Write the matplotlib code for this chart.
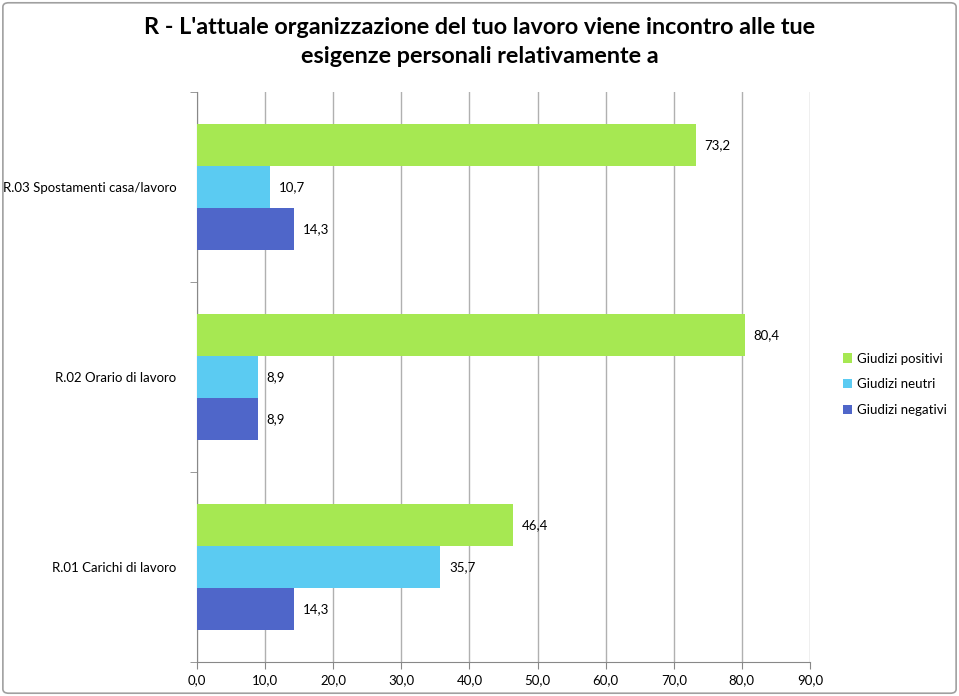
import matplotlib.pyplot as plt
import numpy as np
from matplotlib.patches import FancyBboxPatch

plt.rcParams['font.family'] = ['Lato', 'DejaVu Sans']

categories = ['R.01 Carichi di lavoro', 'R.02 Orario di lavoro', 'R.03 Spostamenti casa/lavoro']
positivi = [46.4, 80.4, 73.2]
neutri = [35.7, 8.9, 10.7]
negativi = [14.3, 8.9, 14.3]
series = ['Giudizi positivi', 'Giudizi neutri', 'Giudizi negativi']
colors = ['#a6e852', '#5bcbf2', '#4f66c9']
title = "R - L'attuale organizzazione del tuo lavoro viene incontro alle tue\nesigenze personali relativamente a"

fig = plt.figure(figsize=(9.59, 6.96), dpi=100)
ax = fig.add_axes([0.2054, 0.0489, 0.6392, 0.8189])

# grey rounded border of the chart area
fig.patches.append(FancyBboxPatch((0.003, 0.004), 0.994, 0.992, boxstyle='round,pad=0,rounding_size=0.006',
                                  transform=fig.transFigure, fill=False, edgecolor='#a0a0a0', lw=1.2))

fs = 9.5
y = np.arange(len(categories))
h = 0.221
for vals, off, col, name in zip([positivi, neutri, negativi], [h, 0, -h], colors, series):
    bars = ax.barh(y + off, vals, height=h, color=col, label=name, zorder=3)
    for b, v in zip(bars, vals):
        ax.text(v + 1.3, b.get_y() + h / 2, f'{v:.1f}'.replace('.', ','), va='center', ha='left',
                fontsize=fs, zorder=4)

ax.set_xlim(0, 90)
ax.set_ylim(-0.5, 2.5)
ax.set_xticks(np.arange(0, 91, 10))
ax.set_xticklabels([f'{t:.1f}'.replace('.', ',') for t in np.arange(0, 91, 10)], fontsize=fs)
ax.set_yticks(y)
ax.set_yticklabels(categories, fontsize=fs)
ax.set_yticks([-0.5, 0.5, 1.5, 2.5], minor=True)
ax.tick_params(axis='y', which='major', length=0, pad=15)
ax.tick_params(axis='y', which='minor', length=5, color='#888888')
ax.tick_params(axis='x', length=5, color='#888888', pad=4)
ax.grid(axis='x', color='#b0b0b0', lw=1, zorder=0)
for s in ['top', 'right']:
    ax.spines[s].set_visible(False)
ax.spines['left'].set_color('#888888')
ax.spines['bottom'].set_color('#888888')

fig.text(0.5, 0.9397, title, ha='center', va='center', fontsize=16.8, fontweight='bold', linespacing=1.45)

ax.legend(loc='center left', bbox_to_anchor=(1.034, 0.487), frameon=False, fontsize=fs,
          handlelength=0.7, handleheight=0.7, handletextpad=0.4, labelspacing=1.05)

fig.savefig('out.png', dpi=100)
